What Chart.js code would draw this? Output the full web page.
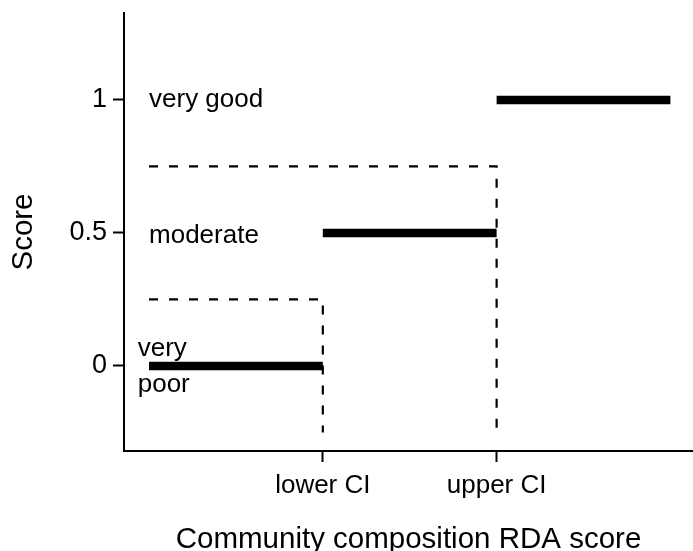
<!DOCTYPE html>
<html>
<head>
<meta charset="utf-8">
<script src="https://cdn.jsdelivr.net/npm/chart.js@4/dist/chart.umd.min.js"></script>
<style>
  html, body { margin: 0; padding: 0; background: #fff; }
  #wrap { width: 693px; height: 551px; }
</style>
</head>
<body>
<div id="wrap"><canvas id="myChart" width="693" height="551"></canvas></div>
<script>
// score class of each step and the RDA score interval it covers
categories = ["very poor", "moderate", "very good"]
scoreValues = [0, 0.5, 1]
stepStart = [0, 1, 2]
stepEnd = [1, 2, 3]

// class boundaries (dashed), dropped down to the CI positions
thresholdValues = [0.25, 0.75]
thresholdX = [1, 2]
dashStartX = 0
dashBottom = -0.25

// axis ticks
xTickValues = [1, 2]
xTickLabels = ["lower CI", "upper CI"]
yTickValues = [0, 0.5, 1]
yTickLabels = ["0", "0.5", "1"]

// class labels written in the plot
classLabels = ["very good", "moderate", "very", "poor"]
classLabelX = [0, 0, -0.065, -0.065]
classLabelY = [1, 0.49, 0.064, -0.07]

const FONT = "'Liberation Sans', Arial, sans-serif";

function buildDatasets() {
    let sets = [];
    for (let i = 0; i < categories.length; i++) {
        sets.push({
            label: categories[i],
            data: [{x: stepStart[i], y: scoreValues[i]}, {x: stepEnd[i], y: scoreValues[i]}],
            borderColor: "#000",
            borderWidth: 8.5,
            borderCapStyle: "butt",
            pointRadius: 0,
            showLine: true,
            fill: false
        });
    }
    for (let i = 0; i < thresholdValues.length; i++) {
        sets.push({
            label: "threshold " + thresholdValues[i],
            data: [
                {x: dashStartX, y: thresholdValues[i]},
                {x: thresholdX[i], y: thresholdValues[i]},
                {x: thresholdX[i], y: dashBottom}
            ],
            borderColor: "#000",
            borderWidth: 2.2,
            borderDash: [9, 11],
            borderCapStyle: "butt",
            borderJoinStyle: "miter",
            pointRadius: 0,
            showLine: true,
            fill: false
        });
    }
    return sets;
}

const classLabelPlugin = {
    id: "classLabels",
    afterDatasetsDraw(chart) {
        const ctx = chart.ctx;
        const xs = chart.scales.x, ys = chart.scales.y;
        ctx.save();
        ctx.fillStyle = "#000";
        ctx.font = "26px " + FONT;
        ctx.textAlign = "left";
        ctx.textBaseline = "middle";
        for (let i = 0; i < classLabels.length; i++) {
            ctx.fillText(classLabels[i], xs.getPixelForValue(classLabelX[i]), ys.getPixelForValue(classLabelY[i]));
        }
        ctx.restore();
    }
};

function plotChart() {
    let ctx = document.getElementById('myChart').getContext('2d');
    return new Chart(ctx, {
        type: 'scatter',
        data: { datasets: buildDatasets() },
        plugins: [classLabelPlugin],
        options: {
            responsive: false,
            animation: false,
            layout: { padding: { top: 13, right: 0, bottom: 0, left: 0 } },
            plugins: { legend: { display: false }, tooltip: { enabled: false } },
            scales: {
                x: {
                    type: 'linear',
                    min: -0.144,
                    max: 3.13,
                    afterFit(scale) { scale.height = 100; scale.paddingLeft = 0; scale.paddingRight = 0; },
                    afterBuildTicks(scale) { scale.ticks = xTickValues.map(v => ({value: v})); },
                    ticks: {
                        color: "#000",
                        font: { family: FONT, size: 26 },
                        padding: 8,
                        autoSkip: false,
                        maxRotation: 0,
                        callback: (v) => xTickLabels[xTickValues.indexOf(v)]
                    },
                    grid: { drawOnChartArea: false, drawTicks: true, tickLength: 11, tickColor: "#000", tickWidth: 2 },
                    border: { display: true, color: "#000", width: 2 },
                    title: {
                        display: true,
                        text: "Community composition RDA score",
                        color: "#000",
                        font: { family: FONT, size: 29.5, lineHeight: 0.75 },
                        padding: { top: 0, bottom: 0 }
                    }
                },
                y: {
                    type: 'linear',
                    min: -0.32,
                    max: 1.327,
                    afterFit(scale) { scale.width = 124; scale.paddingTop = 0; scale.paddingBottom = 0; },
                    afterBuildTicks(scale) { scale.ticks = yTickValues.map(v => ({value: v})); },
                    ticks: {
                        color: "#000",
                        font: { family: FONT, size: 27 },
                        padding: 6,
                        callback: (v) => yTickLabels[yTickValues.indexOf(v)]
                    },
                    grid: { drawOnChartArea: false, drawTicks: true, tickLength: 11, tickColor: "#000", tickWidth: 2 },
                    border: { display: true, color: "#000", width: 2 },
                    title: {
                        display: true,
                        text: "Score",
                        color: "#000",
                        font: { family: FONT, size: 29.5, lineHeight: 1 },
                        padding: { top: 9, bottom: 0 }
                    }
                }
            }
        }
    });
}

plotChart();
</script>
</body>
</html>
